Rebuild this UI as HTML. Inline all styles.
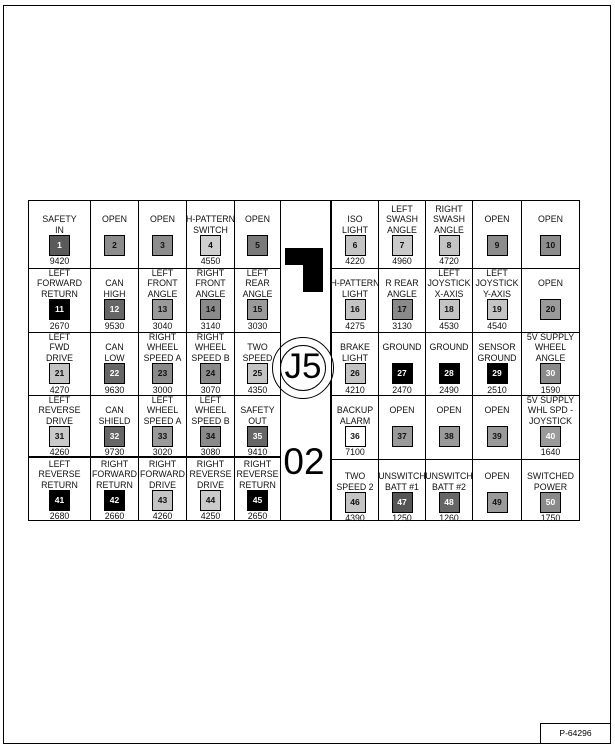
<!DOCTYPE html>
<html><head><meta charset="utf-8"><style>
body{margin:0;width:615px;height:751px;background:#fff;position:relative;overflow:hidden;font-family:"Liberation Sans",Arial,sans-serif;}
.frame{position:absolute;left:3px;top:5px;width:606px;height:737px;border:1.5px solid #000;}
.c{position:absolute;box-sizing:border-box;border:0.8px solid #000;}
.l{position:absolute;left:-6px;right:-6px;top:0;display:flex;align-items:flex-end;justify-content:center;text-align:center;font-size:8.8px;line-height:10.5px;color:#111;white-space:nowrap;}
.b{position:absolute;left:50%;margin-left:-10.5px;width:19px;height:19px;border:1px solid #000;font-size:8.5px;font-weight:bold;text-align:center;line-height:19px;color:#111;}
.w{color:#fff}
.n{position:absolute;left:0;right:0;text-align:center;font-size:8.8px;line-height:9px;color:#111;}
.r1 .l{height:34px}.r1 .b{top:34px}.r1 .n{top:56px}
.r2 .l{height:30px}.r2 .b{top:30px}.r2 .n{top:53px}
.r3 .l{height:30px}.r3 .b{top:30px}.r3 .n{top:53px}
.r4 .l{height:30px}.r4 .b{top:30px}.r4 .n{top:52px}
.r5 .l{height:32px}.r5 .b{top:32px}.r5 .n{top:54px}
</style></head><body>
<div class="frame"></div>
<div style="position:absolute;left:280px;top:200px;width:51px;height:321px;box-sizing:border-box;border:1px solid #000;"></div>
<div style="position:absolute;left:285px;top:248px;width:38px;height:17px;background:#000"></div>
<div style="position:absolute;left:303px;top:248px;width:20px;height:44px;background:#000"></div>
<div style="position:absolute;left:272px;top:337px;width:60px;height:60px;border:1px solid #000;border-radius:50%;background:#fff"></div>
<div style="position:absolute;left:280px;top:345px;width:44px;height:44px;border:1px solid #000;border-radius:50%;background:#fff"></div>
<div style="position:absolute;left:272px;top:346px;width:62px;text-align:center;font-size:35px;line-height:42px">J5</div>
<div style="position:absolute;left:272px;top:441px;width:64px;text-align:center;font-size:37px;line-height:42px">02</div>

<div class="c r1" style="left:28px;top:200px;width:63px;height:69px"><div class="l">SAFETY<br>IN</div><div class="b w" style="background:#5a5a5a">1</div><div class="n">9420</div></div>
<div class="c r1" style="left:90px;top:200px;width:49px;height:69px"><div class="l">OPEN<br>&nbsp;</div><div class="b" style="background:#8c8c8c">2</div><div class="n"></div></div>
<div class="c r1" style="left:138px;top:200px;width:49px;height:69px"><div class="l">OPEN<br>&nbsp;</div><div class="b" style="background:#8c8c8c">3</div><div class="n"></div></div>
<div class="c r1" style="left:186px;top:200px;width:49px;height:69px"><div class="l">H-PATTERN<br>SWITCH</div><div class="b" style="background:#cfcfcf">4</div><div class="n">4550</div></div>
<div class="c r1" style="left:234px;top:200px;width:47px;height:69px"><div class="l">OPEN<br>&nbsp;</div><div class="b" style="background:#7a7a7a">5</div><div class="n"></div></div>
<div class="c r1" style="left:331px;top:200px;width:48px;height:69px"><div class="l">ISO<br>LIGHT</div><div class="b" style="background:#c4c4c4">6</div><div class="n">4220</div></div>
<div class="c r1" style="left:378px;top:200px;width:48px;height:69px"><div class="l">LEFT<br>SWASH<br>ANGLE</div><div class="b" style="background:#cacaca">7</div><div class="n">4960</div></div>
<div class="c r1" style="left:425px;top:200px;width:48px;height:69px"><div class="l">RIGHT<br>SWASH<br>ANGLE</div><div class="b" style="background:#c4c4c4">8</div><div class="n">4720</div></div>
<div class="c r1" style="left:472px;top:200px;width:50px;height:69px"><div class="l">OPEN<br>&nbsp;</div><div class="b" style="background:#8c8c8c">9</div><div class="n"></div></div>
<div class="c r1" style="left:521px;top:200px;width:59px;height:69px"><div class="l">OPEN<br>&nbsp;</div><div class="b" style="background:#8c8c8c">10</div><div class="n"></div></div>

<div class="c r2" style="left:28px;top:268px;width:63px;height:65px"><div class="l">LEFT<br>FORWARD<br>RETURN</div><div class="b w" style="background:#000">11</div><div class="n">2670</div></div>
<div class="c r2" style="left:90px;top:268px;width:49px;height:65px"><div class="l">CAN<br>HIGH</div><div class="b w" style="background:#666">12</div><div class="n">9530</div></div>
<div class="c r2" style="left:138px;top:268px;width:49px;height:65px"><div class="l">LEFT<br>FRONT<br>ANGLE</div><div class="b" style="background:#9a9a9a">13</div><div class="n">3040</div></div>
<div class="c r2" style="left:186px;top:268px;width:49px;height:65px"><div class="l">RIGHT<br>FRONT<br>ANGLE</div><div class="b" style="background:#8a8a8a">14</div><div class="n">3140</div></div>
<div class="c r2" style="left:234px;top:268px;width:47px;height:65px"><div class="l">LEFT<br>REAR<br>ANGLE</div><div class="b" style="background:#9a9a9a">15</div><div class="n">3030</div></div>
<div class="c r2" style="left:331px;top:268px;width:48px;height:65px"><div class="l">H-PATTERN<br>LIGHT</div><div class="b" style="background:#c4c4c4">16</div><div class="n">4275</div></div>
<div class="c r2" style="left:378px;top:268px;width:48px;height:65px"><div class="l">R REAR<br>ANGLE</div><div class="b" style="background:#8a8a8a">17</div><div class="n">3130</div></div>
<div class="c r2" style="left:425px;top:268px;width:48px;height:65px"><div class="l">LEFT<br>JOYSTICK<br>X-AXIS</div><div class="b" style="background:#c4c4c4">18</div><div class="n">4530</div></div>
<div class="c r2" style="left:472px;top:268px;width:50px;height:65px"><div class="l">LEFT<br>JOYSTICK<br>Y-AXIS</div><div class="b" style="background:#c4c4c4">19</div><div class="n">4540</div></div>
<div class="c r2" style="left:521px;top:268px;width:59px;height:65px"><div class="l">OPEN<br>&nbsp;</div><div class="b" style="background:#9a9a9a">20</div><div class="n"></div></div>

<div class="c r3" style="left:28px;top:332px;width:63px;height:64px"><div class="l">LEFT<br>FWD<br>DRIVE</div><div class="b" style="background:#c4c4c4">21</div><div class="n">4270</div></div>
<div class="c r3" style="left:90px;top:332px;width:49px;height:64px"><div class="l">CAN<br>LOW</div><div class="b w" style="background:#666">22</div><div class="n">9630</div></div>
<div class="c r3" style="left:138px;top:332px;width:49px;height:64px"><div class="l">RIGHT<br>WHEEL<br>SPEED A</div><div class="b" style="background:#8a8a8a">23</div><div class="n">3000</div></div>
<div class="c r3" style="left:186px;top:332px;width:49px;height:64px"><div class="l">RIGHT<br>WHEEL<br>SPEED B</div><div class="b" style="background:#8a8a8a">24</div><div class="n">3070</div></div>
<div class="c r3" style="left:234px;top:332px;width:47px;height:64px"><div class="l">TWO<br>SPEED</div><div class="b" style="background:#c4c4c4">25</div><div class="n">4350</div></div>
<div class="c r3" style="left:331px;top:332px;width:48px;height:64px"><div class="l">BRAKE<br>LIGHT</div><div class="b" style="background:#c4c4c4">26</div><div class="n">4210</div></div>
<div class="c r3" style="left:378px;top:332px;width:48px;height:64px"><div class="l">GROUND<br>&nbsp;</div><div class="b w" style="background:#000">27</div><div class="n">2470</div></div>
<div class="c r3" style="left:425px;top:332px;width:48px;height:64px"><div class="l">GROUND<br>&nbsp;</div><div class="b w" style="background:#000">28</div><div class="n">2490</div></div>
<div class="c r3" style="left:472px;top:332px;width:50px;height:64px"><div class="l">SENSOR<br>GROUND</div><div class="b w" style="background:#000">29</div><div class="n">2510</div></div>
<div class="c r3" style="left:521px;top:332px;width:59px;height:64px"><div class="l">5V SUPPLY<br>WHEEL<br>ANGLE</div><div class="b w" style="background:#8a8a8a">30</div><div class="n">1590</div></div>

<div class="c r4" style="left:28px;top:395px;width:63px;height:62px"><div class="l">LEFT<br>REVERSE<br>DRIVE</div><div class="b" style="background:#cacaca">31</div><div class="n">4260</div></div>
<div class="c r4" style="left:90px;top:395px;width:49px;height:62px"><div class="l">CAN<br>SHIELD</div><div class="b w" style="background:#666">32</div><div class="n">9730</div></div>
<div class="c r4" style="left:138px;top:395px;width:49px;height:62px"><div class="l">LEFT<br>WHEEL<br>SPEED A</div><div class="b" style="background:#9a9a9a">33</div><div class="n">3020</div></div>
<div class="c r4" style="left:186px;top:395px;width:49px;height:62px"><div class="l">LEFT<br>WHEEL<br>SPEED B</div><div class="b" style="background:#8a8a8a">34</div><div class="n">3080</div></div>
<div class="c r4" style="left:234px;top:395px;width:47px;height:62px"><div class="l">SAFETY<br>OUT</div><div class="b w" style="background:#666">35</div><div class="n">9410</div></div>
<div class="c r4" style="left:331px;top:395px;width:48px;height:65px"><div class="l">BACKUP<br>ALARM</div><div class="b" style="background:#fff">36</div><div class="n">7100</div></div>
<div class="c r4" style="left:378px;top:395px;width:48px;height:65px"><div class="l">OPEN<br>&nbsp;</div><div class="b" style="background:#9a9a9a">37</div><div class="n"></div></div>
<div class="c r4" style="left:425px;top:395px;width:48px;height:65px"><div class="l">OPEN<br>&nbsp;</div><div class="b" style="background:#9a9a9a">38</div><div class="n"></div></div>
<div class="c r4" style="left:472px;top:395px;width:50px;height:65px"><div class="l">OPEN<br>&nbsp;</div><div class="b" style="background:#9a9a9a">39</div><div class="n"></div></div>
<div class="c r4" style="left:521px;top:395px;width:59px;height:65px"><div class="l">5V SUPPLY<br>WHL SPD -<br>JOYSTICK</div><div class="b w" style="background:#9a9a9a">40</div><div class="n">1640</div></div>

<div class="c r5" style="left:28px;top:456px;width:63px;height:65px;border-top-width:2px"><div class="l">LEFT<br>REVERSE<br>RETURN</div><div class="b w" style="background:#000">41</div><div class="n">2680</div></div>
<div class="c r5" style="left:90px;top:456px;width:49px;height:65px;border-top-width:2px"><div class="l">RIGHT<br>FORWARD<br>RETURN</div><div class="b w" style="background:#000">42</div><div class="n">2660</div></div>
<div class="c r5" style="left:138px;top:456px;width:49px;height:65px;border-top-width:2px"><div class="l">RIGHT<br>FORWARD<br>DRIVE</div><div class="b" style="background:#c4c4c4">43</div><div class="n">4260</div></div>
<div class="c r5" style="left:186px;top:456px;width:49px;height:65px;border-top-width:2px"><div class="l">RIGHT<br>REVERSE<br>DRIVE</div><div class="b" style="background:#cacaca">44</div><div class="n">4250</div></div>
<div class="c r5" style="left:234px;top:456px;width:47px;height:65px;border-top-width:2px"><div class="l">RIGHT<br>REVERSE<br>RETURN</div><div class="b w" style="background:#000">45</div><div class="n">2650</div></div>
<div class="c r5" style="left:331px;top:459px;width:48px;height:62px"><div class="l">TWO<br>SPEED 2</div><div class="b" style="background:#c4c4c4">46</div><div class="n">4390</div></div>
<div class="c r5" style="left:378px;top:459px;width:48px;height:62px"><div class="l">UNSWITCH<br>BATT #1</div><div class="b w" style="background:#555">47</div><div class="n">1250</div></div>
<div class="c r5" style="left:425px;top:459px;width:48px;height:62px"><div class="l">UNSWITCH<br>BATT #2</div><div class="b w" style="background:#666">48</div><div class="n">1260</div></div>
<div class="c r5" style="left:472px;top:459px;width:50px;height:62px"><div class="l">OPEN<br>&nbsp;</div><div class="b" style="background:#9a9a9a">49</div><div class="n"></div></div>
<div class="c r5" style="left:521px;top:459px;width:59px;height:62px"><div class="l">SWITCHED<br>POWER</div><div class="b w" style="background:#8a8a8a">50</div><div class="n">1750</div></div>

<div style="position:absolute;left:540px;top:723px;width:70px;height:20px;box-sizing:border-box;border:1px solid #000;border-right:none;border-bottom:none;font-size:8.5px;line-height:18px;text-align:center;">P-64296</div>
</body></html>
